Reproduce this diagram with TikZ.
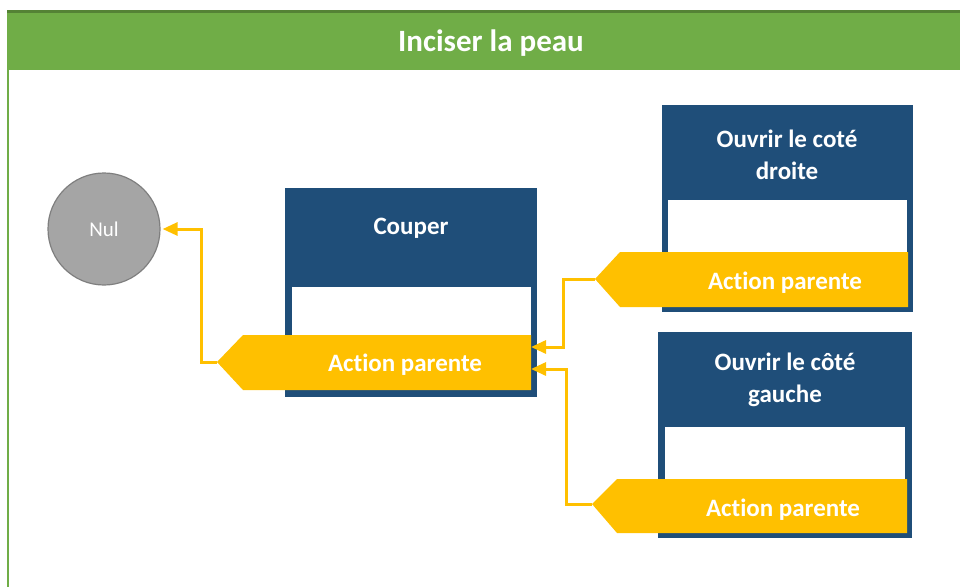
\documentclass[tikz,border=0pt]{standalone}
\usepackage{fontspec}
\setmainfont[Ligatures=NoCommon]{Carlito}
\usetikzlibrary{arrows.meta,positioning,calc}
\definecolor{titlegreen}{HTML}{70AD47}
\definecolor{titleline}{HTML}{548235}
\definecolor{boxblue}{HTML}{1F4E79}
\definecolor{parentyellow}{HTML}{FFC000}
\definecolor{nulgrey}{HTML}{A5A5A5}
\definecolor{nulline}{HTML}{7F7F7F}

\begin{document}
\begin{tikzpicture}[x=1pt,y=-1pt,
  nul/.style={circle,fill=nulgrey,draw=nulline,line width=1.2pt,minimum size=112pt,inner sep=0pt,
    text=white,font=\fontsize{21}{24}\selectfont},
  boxtitle/.style={text=white,align=center,font=\fontsize{25}{32}\selectfont\bfseries},
  parenttext/.style={text=white,font=\fontsize{25}{32}\selectfont\bfseries},
  link/.style={draw=parentyellow,line width=3pt,-{Triangle[length=15pt,width=13pt]}}]
\useasboundingbox (0,0) rectangle (960,587);
% title bar
\fill[titlegreen] (7,10) rectangle (960,70);
\draw[titleline,line width=3pt] (7,11.5) -- (960,11.5);
\draw[titlegreen,line width=2pt] (8,70) -- (8,587);
\node[text=white,font=\fontsize{31}{36}\selectfont\bfseries] (title) at (491,43) {Inciser la peau};

\node[nul] (nul) at (104,229) {Nul};

% Couper
\fill[boxblue] (285,188) rectangle (537,397);
\fill[white] (292,287) rectangle (531,336);
\fill[parentyellow] (217,362) -- (243,335) -- (531,335) -- (531,390) -- (243,390) -- cycle;
\node[boxtitle] (couper) at (411,228) {Couper};
\node[parenttext] (pcouper) at (405,365) {Action parente};
\coordinate (tipcouper) at (217,362);
\coordinate (incouper1) at (531,347);
\coordinate (incouper2) at (531,369);

% Ouvrir le cote droite
\fill[boxblue] (662,105) rectangle (913,312);
\fill[white] (668,200) rectangle (907,253);
\fill[parentyellow] (595,279) -- (620,252) -- (908,252) -- (908,307) -- (620,307) -- cycle;
\node[boxtitle] (droite) at (787,155) {Ouvrir le coté\\droite};
\node[parenttext] (pdroite) at (785,283) {Action parente};
\coordinate (tipdroite) at (595,279);

% Ouvrir le cote gauche
\fill[boxblue] (658,332) rectangle (912,538);
\fill[white] (665,427) rectangle (905,480);
\fill[parentyellow] (592,504) -- (617,479) -- (907,479) -- (907,533) -- (617,533) -- cycle;
\node[boxtitle] (gauche) at (785,380) {Ouvrir le côté\\gauche};
\node[parenttext] (pgauche) at (783,510) {Action parente};
\coordinate (tipgauche) at (592,504);

\draw[link,shorten >=2pt] (tipcouper) -- ++(-16,0) |- (nul);
\draw[link] (tipdroite) -- ++(-32,0) |- (incouper1);
\draw[link] (tipgauche) -- ++(-26,0) |- (incouper2);
\end{tikzpicture}
\end{document}
